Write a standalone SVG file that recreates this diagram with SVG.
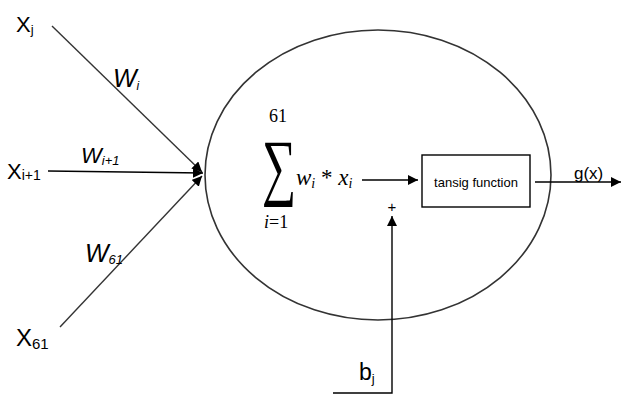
<svg xmlns="http://www.w3.org/2000/svg" width="623" height="399" viewBox="0 0 623 399">
<defs>
<marker id="ah" viewBox="0 0 10 10" refX="10" refY="5" markerWidth="10" markerHeight="10" markerUnits="userSpaceOnUse" orient="auto">
<path d="M0,0 L10,5 L0,10 z" fill="#000"/>
</marker>
</defs>
<style>
.lbl{font-family:"Liberation Sans",Arial,sans-serif;fill:#000}
.w{font-family:"Liberation Sans",Arial,sans-serif;font-style:italic;fill:#000}
.m{font-family:"Liberation Serif","Times New Roman",serif;fill:#000}
.ln{stroke:#000;stroke-width:1.4;fill:none}
.dg{stroke:#333;stroke-width:1.4;fill:none}
</style>
<rect width="623" height="399" fill="#fff"/>
<g id="neuron">
<ellipse cx="378" cy="175" rx="173" ry="145" fill="none" stroke="#333" stroke-width="1.6"/>
</g>
<g id="connectors">
<line class="dg" x1="52" y1="26" x2="202" y2="172" marker-end="url(#ah)"/>
<line class="ln" x1="48" y1="171" x2="203" y2="173" marker-end="url(#ah)"/>
<line class="dg" x1="60" y1="327" x2="202" y2="176" marker-end="url(#ah)"/>
<line class="ln" x1="362" y1="180" x2="418" y2="180" marker-end="url(#ah)"/>
<line class="ln" x1="535" y1="182" x2="621" y2="182" marker-end="url(#ah)"/>
<polyline class="ln" points="333,393 392,393 392,216" marker-end="url(#ah)"/>
</g>
<g id="xj"><text class="lbl" x="16" y="32" font-size="22">X<tspan font-size="13" dy="2">j</tspan></text></g>
<g id="xi1"><text class="lbl" x="7" y="179" font-size="22">X<tspan font-size="14" dy="1">i+1</tspan></text></g>
<g id="x61"><text class="lbl" x="16" y="346" font-size="24">X<tspan font-size="15" dy="3">61</tspan></text></g>
<g id="wi"><text class="w" x="113" y="87" font-size="25">W<tspan font-size="12" dy="3">i</tspan></text></g>
<g id="wi1"><text class="w" x="81" y="163" font-size="22">W<tspan font-size="13" dy="2">i+1</tspan></text></g>
<g id="w61"><text class="w" x="85" y="262" font-size="25">W<tspan font-size="13" dy="2">61</tspan></text></g>
<g id="sum">
<text class="m" x="269" y="122" font-size="18">61</text>
<text class="m" transform="translate(262,191) scale(0.65,1)" x="0" y="0" font-size="74">∑</text>
<text class="m" x="264" y="228" font-size="18"><tspan font-style="italic">i</tspan>=1</text>
<text class="m" x="296" y="185" font-size="23"><tspan font-style="italic">w</tspan><tspan font-style="italic" font-size="14" dy="3">i</tspan><tspan dy="-3"> * </tspan><tspan font-style="italic">x</tspan><tspan font-style="italic" font-size="14" dy="3">i</tspan></text>
</g>
<g id="tansig">
<rect x="422" y="155" width="108" height="52" fill="#fff" stroke="#000" stroke-width="1.4"/>
<text class="lbl" x="476" y="187" font-size="13" text-anchor="middle">tansig function</text>
</g>
<g id="gx"><text class="lbl" x="574" y="179" font-size="17">g(x)</text></g>
<g id="plus"><text class="lbl" x="392" y="212" font-size="15" text-anchor="middle">+</text></g>
<g id="bj"><text class="lbl" x="359" y="380" font-size="23">b<tspan font-size="13" dy="3">j</tspan></text></g>
</svg>
